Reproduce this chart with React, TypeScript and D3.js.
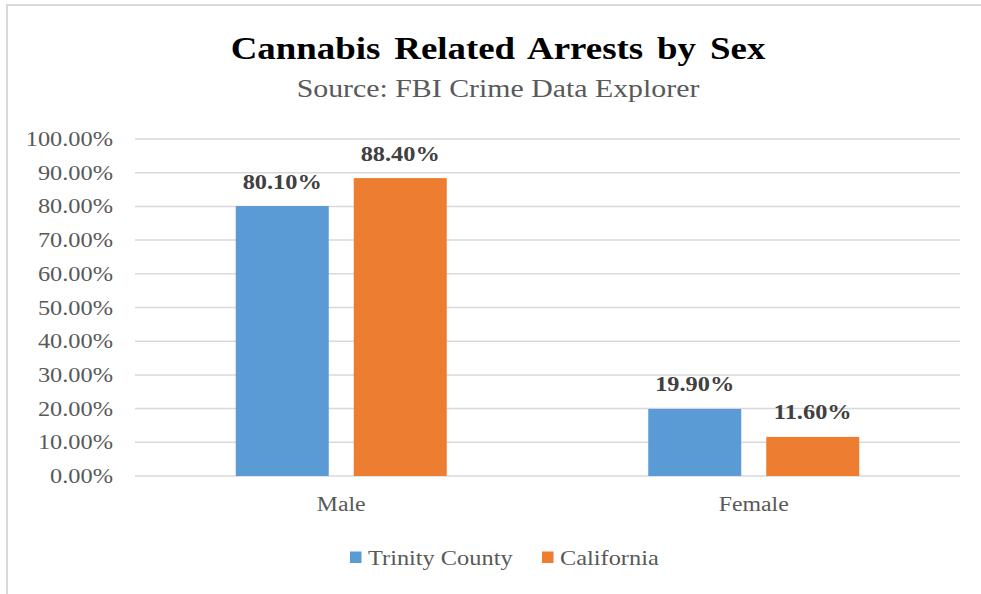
import React from "react";
import * as d3 from "d3";

const categories = ["Male", "Female"];
const seriesNames = ["Trinity County", "California"];
const trinityValues = [80.1, 19.9];
const californiaValues = [88.4, 11.6];
const tickValues = [0, 10, 20, 30, 40, 50, 60, 70, 80, 90, 100];
const colors = ["#5B9BD5", "#ED7D31"];

const W = 981;
const H = 594;
const FONT = "'Liberation Serif', 'Times New Roman', serif";
const SX = 1.16;

function T(props: any) {
  const { x, y, sx = SX, children, ...rest } = props;
  return (
    <text transform={`translate(${x},${y}) scale(${sx},1)`} fontFamily={FONT} {...rest}>
      {children}
    </text>
  );
}

export default function App() {
  const plotLeft = 135;
  const plotRight = 960;
  const plotTop = 139;
  const plotBottom = 476;

  const x = d3.scaleBand<string>().domain(categories).range([plotLeft, plotRight]);
  const y = d3.scaleLinear().domain([0, 100]).range([plotBottom, plotTop]);
  const barW = 93;
  const gap = 25;
  const series = [trinityValues, californiaValues];

  return (
    <svg width={W} height={H} style={{ position: "absolute", left: 0, top: 0, background: "#fff" }}>
      <rect x={0} y={0} width={W} height={H} fill="#fff" />
      <rect x={7} y={5} width={W + 20} height={H + 20} fill="none" stroke="#D9D9D9" strokeWidth={2} />
      <T x={498} y={59} sx={1.19} textAnchor="middle" fontWeight="bold" fontSize={31} fill="#000" wordSpacing={4}>
        Cannabis Related Arrests by Sex
      </T>
      <T x={498} y={97} sx={1.17} textAnchor="middle" fontSize={25.5} fill="#595959">
        Source: FBI Crime Data Explorer
      </T>
      {tickValues.map((t) => (
        <g key={t}>
          <line x1={plotLeft} x2={plotRight} y1={y(t)} y2={y(t)} stroke="#D9D9D9" strokeWidth={1.5} />
          <T x={113} y={y(t) + 7} textAnchor="end" fontSize={21} fill="#595959">
            {t.toFixed(2) + "%"}
          </T>
        </g>
      ))}
      {categories.map((c, i) => {
        const cx = (x(c) as number) + x.bandwidth() / 2;
        return (
          <g key={c}>
            {series.map((vals, s) => {
              const bx = s === 0 ? cx - gap / 2 - barW : cx + gap / 2;
              const v = vals[i];
              return (
                <g key={s}>
                  <rect x={bx} y={y(v)} width={barW} height={plotBottom - y(v)} fill={colors[s]} />
                  <T x={bx + barW / 2} y={y(v) - 17.5} textAnchor="middle" fontWeight="bold" fontSize={21} fill="#404040">
                    {v.toFixed(2) + "%"}
                  </T>
                </g>
              );
            })}
            <T x={cx} y={511} textAnchor="middle" fontSize={20.5} fill="#595959">
              {c}
            </T>
          </g>
        );
      })}
      {seriesNames.map((n, s) => {
        const lx = s === 0 ? 350 : 542;
        return (
          <g key={n}>
            <rect x={lx} y={551.5} width={11.5} height={11.5} fill={colors[s]} />
            <T x={lx + 18} y={565} fontSize={21} fill="#595959">
              {n}
            </T>
          </g>
        );
      })}
    </svg>
  );
}
